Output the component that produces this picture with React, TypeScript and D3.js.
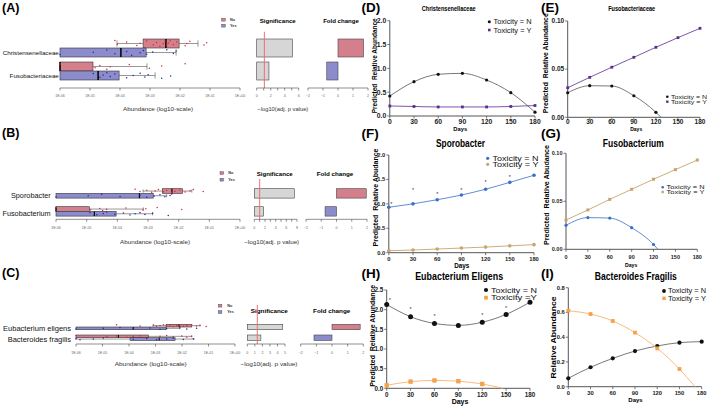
import React from "react";
import * as d3 from "d3";

const FONT = "'Liberation Sans', Arial, Helvetica, sans-serif";

// ---------------- Panels A–C (abundance values as log10) ----------------
// box stats: [whiskerLow, q1, median, q3, whiskerHigh]
const aTaxa = ["Christensenellaceae", "Fusobacteriaceae"];
const aBoxNo = [[-4.1, -3.23, -2.47, -2.03, -1.4], [-6, -6, -6, -4.9, -3.1]];
const aBoxYes = [[-6, -6, -3.97, -3.13, -2.13], [-6, -6, -4.73, -4.03, -2.83]];
const aDotsNo = [
  [-4.17, -4.09, -3.78, -3.44, -3.33, -3.11, -2.89, -2.78, -2.67, -2.56, -2.5, -2.44, -2.39, -2.33, -2.22, -2.11, -1.83, -1.78, -1.67, -1.2, -1.11],
  [-6, -4.83, -4.67, -4.44, -4.33, -3.69, -3.02, -2.61, -1.83],
];
const aDotsYes = [
  [-6, -4.89, -4.44, -4.17, -3.78, -3.61, -3.33, -3.22, -3.11, -2.91, -2.44, -2.22, -2.13],
  [-4.89, -4.67, -4.56, -4.44, -4.33, -4.17, -3.78, -3.56, -3.33, -3.17, -3.06, -2.61, -2.31],
];
const aSig = [5.1, 1.75];
const aFold = [1.7, -0.75];

const bTaxa = ["Sporobacter", "Fusobacterium"];
const bBoxNo = [[-3.16, -2.53, -2.22, -1.87, -1.57], [-6, -6, -6, -4.91, -3.15]];
const bBoxYes = [[-6, -6, -3.28, -2.83, -2.39], [-6, -6, -4.75, -4.04, -2.85]];
const bDotsNo = [
  [-3.42, -3.26, -3.04, -2.88, -2.77, -2.66, -2.5, -2.39, -2.23, -2.12, -1.96, -1.79, -1.63, -1.52, -1.2],
  [-6, -4.87, -4.57, -4.48, -4.35, -3.72, -3.17, -3.07, -2.7, -1.9],
];
const bDotsYes = [
  [-6, -4.95, -4.51, -3.91, -3.26, -3.04, -2.8, -2.61, -2.45, -2.28, -2.23],
  [-4.89, -4.67, -4.46, -4.35, -4.08, -3.8, -3.59, -3.42, -3.26, -3.1, -2.85, -2.34],
];
const bSig = [7.5, 1.75];
const bFold = [1.95, -0.75];

const cTaxa = ["Eubacterium eligens", "Bacteroides fragilis"];
const cBoxNo = [[-3.09, -2.6, -2.11, -1.63, -1.32], [-6, -6, -4.4, -3.27, -1.63]];
const cBoxYes = [[-6, -6, -3.84, -2.6, -2.08], [-6, -3.96, -2.86, -2.26, -1.55]];
const cDotsNo = [
  [-4.47, -3.58, -3.08, -2.96, -2.83, -2.7, -2.58, -2.45, -2.33, -2.2, -2.08, -1.95, -1.82, -1.64, -1.45, -1.32, -1.09],
  [-6, -4.84, -4.47, -4.09, -3.84, -3.58, -3.27, -2.83, -2.58, -2.33, -2.01, -1.82, -1.64],
];
const cDotsYes = [
  [-6, -4.97, -4.34, -3.84, -3.21, -2.83, -2.58, -2.08, -1.82, -1.45],
  [-6, -5.85, -5.35, -4.97, -3.84, -3.33, -2.96, -2.58, -2.33, -1.95, -1.57],
];
const cSig = [4.7, 1.8];
const cFold = [1.8, -1.15];

const abundanceTicks = [-6, -5, -4, -3, -2, -1, 0];
const foldTicks = [-2, -1, 0, 1, 2];
const groupNames = ["No", "Yes"];

// ---------------- Panels D–I (predicted abundance by day) ----------------
const days = [0, 30, 60, 90, 120, 150, 180];
const dN = [0.42, 0.72, 0.875, 0.895, 0.755, 0.49, 0.08];
const dY = [0.21, 0.2, 0.19, 0.19, 0.19, 0.2, 0.22];
const eN = [0.0255, 0.0328, 0.0325, 0.0224, 0.0052];
const eNTail: [number, number] = [127, 0];
const eY = [0.0307, 0.0415, 0.052, 0.0623, 0.0727, 0.0827, 0.0924];
const fN = [0.93, 1.0, 1.085, 1.18, 1.3, 1.44, 1.585];
const fY = [0.04, 0.055, 0.075, 0.095, 0.115, 0.14, 0.165];
const fStarDays = [3, 30, 60, 90, 120, 150];
const fStarVals = [1.0, 1.3, 1.22, 1.3, 1.45, 1.57];
const gN = [0.025, 0.033, 0.0325, 0.0225, 0.005];
const gNTail: [number, number] = [126, 0];
const gY = [0.0305, 0.041, 0.052, 0.0625, 0.073, 0.083, 0.093];
const hN = [2.13, 1.82, 1.65, 1.6, 1.68, 1.88, 2.19];
const hY = [0.075, 0.17, 0.2, 0.18, 0.11];
const hYTail: [number, number] = [146, 0];
const hStarDays = [4, 30, 60, 120, 150];
const hStarVals = [2.26, 2.03, 1.85, 1.87, 2.06];
const iN = [0.068, 0.157, 0.229, 0.288, 0.329, 0.356, 0.364];
const iY = [0.614, 0.587, 0.531, 0.437, 0.31, 0.143];
const iYTail: [number, number] = [171, 0];

const RED_FILL = "#d4808c";
const BLUE_FILL = "#8c8ccc";
const RED_DOT = "#d8282e";
const BLUE_DOT = "#2424a8";

const jitter = (i: number) => ((i * 0.618034) % 1) - 0.5;

function abFmt(d: number) {
  return d === 0 ? "1E+00" : `1E-0${-d}`;
}

function BoxPanel({ cfg, taxa, boxNo, boxYes, dotsNo, dotsYes, sig, fold }: any) {
  const xAb = d3.scaleLinear().domain([-6, 0]).range(cfg.ab);
  const xSig = d3.scaleLinear().domain([0, cfg.sigMax]).range(cfg.sig);
  const xFold = d3.scaleLinear().domain([-2, 2]).range(cfg.fold);
  const h = cfg.h;
  const sigTicks = d3.range(0, cfg.sigMax + 1);
  const axisCol = "#444";
  const tf = 3.6;

  const box = (st: number[], top: number, fill: string, key: string) => {
    const mid = top + h / 2;
    const [lo, q1, med, q3, hi] = st;
    return (
      <g key={key}>
        {lo < q1 && <line x1={xAb(lo)} x2={xAb(q1)} y1={mid} y2={mid} stroke="#333" strokeWidth={0.5} />}
        {lo < q1 && <line x1={xAb(lo)} x2={xAb(lo)} y1={top + h * 0.15} y2={top + h * 0.85} stroke="#333" strokeWidth={0.5} />}
        <line x1={xAb(q3)} x2={xAb(hi)} y1={mid} y2={mid} stroke="#333" strokeWidth={0.5} />
        <line x1={xAb(hi)} x2={xAb(hi)} y1={top + h * 0.15} y2={top + h * 0.85} stroke="#333" strokeWidth={0.5} />
        <rect x={xAb(q1)} y={top} width={Math.max(0.5, xAb(q3) - xAb(q1))} height={h} fill={fill} stroke="#333" strokeWidth={0.6} />
        <line x1={xAb(med)} x2={xAb(med)} y1={top} y2={top + h} stroke="#000" strokeWidth={cfg.medW} />
      </g>
    );
  };

  return (
    <g fontFamily={FONT}>
      <text x={2} y={cfg.labelY} fontSize={12.5} fontWeight="bold">{cfg.label}</text>
      {groupNames.map((g, k) => (
        <g key={g}>
          <rect x={cfg.legX} y={cfg.legY[k]} width={3.6} height={2.8} fill={k === 0 ? RED_FILL : BLUE_FILL} stroke="#444" strokeWidth={0.4} />
          <text x={cfg.legTextX} y={cfg.legY[k] + 2.7} fontSize={3.8} fontWeight="bold" fill="#333">{g}</text>
        </g>
      ))}
      <text x={cfg.sigTitleCX} y={cfg.titleY} fontSize={5.6} fontWeight="bold" textAnchor="middle" textLength={cfg.sigTitleW} lengthAdjust="spacingAndGlyphs">Significance</text>
      <text x={cfg.foldTitleCX} y={cfg.titleY} fontSize={5.6} fontWeight="bold" textAnchor="middle" textLength={cfg.foldTitleW} lengthAdjust="spacingAndGlyphs">Fold change</text>

      {taxa.map((t: string, i: number) => {
        const top = cfg.rowTops[i];
        const blueMid = top + h * 1.5;
        return (
          <g key={t}>
            <text x={cfg.rowRight} y={blueMid + cfg.rowFont * 0.35} fontSize={cfg.rowFont} textAnchor="end" fill="#111">{t}</text>
            {box(boxNo[i], top, RED_FILL, "n")}
            {box(boxYes[i], top + h, BLUE_FILL, "y")}
            {dotsNo[i].map((v: number, j: number) => (
              <circle key={"dn" + j} cx={xAb(v)} cy={top + h / 2 + jitter(j + i * 5) * cfg.jit} r={0.75} fill={RED_DOT} />
            ))}
            {dotsYes[i].map((v: number, j: number) => (
              <circle key={"dy" + j} cx={xAb(v)} cy={top + h * 1.5 + jitter(j + 3 + i * 7) * cfg.jit} r={0.75} fill={BLUE_DOT} />
            ))}
            <rect x={xSig(0)} y={top} width={xSig(sig[i]) - xSig(0)} height={2 * h} fill="#d6d6d6" stroke="#444" strokeWidth={0.6} />
            <rect x={xFold(Math.min(0, fold[i]))} y={top} width={Math.abs(xFold(fold[i]) - xFold(0))} height={2 * h}
              fill={fold[i] > 0 ? RED_FILL : BLUE_FILL} stroke="#444" strokeWidth={0.6} />
          </g>
        );
      })}
      <line x1={xSig(cfg.thr)} x2={xSig(cfg.thr)} y1={cfg.redTop} y2={cfg.axisY} stroke="#f06a6a" strokeWidth={1.1} opacity={0.85} />

      <line x1={xAb(-6)} x2={xAb(0)} y1={cfg.axisY} y2={cfg.axisY} stroke={axisCol} strokeWidth={0.6} />
      {abundanceTicks.map((d) => (
        <g key={"at" + d}>
          <line x1={xAb(d)} x2={xAb(d)} y1={cfg.axisY} y2={cfg.axisY + 2.5} stroke={axisCol} strokeWidth={0.6} />
          <text x={xAb(d)} y={cfg.tickLabelY} fontSize={tf} textAnchor="middle" fill="#666">{abFmt(d)}</text>
        </g>
      ))}
      <text x={cfg.abTitleX} y={cfg.axisTitleY} fontSize={6} textAnchor="middle" fill="#333" textLength={cfg.abTitleW} lengthAdjust="spacingAndGlyphs">Abundance (log10-scale)</text>

      <line x1={xSig(0)} x2={xSig(cfg.sigMax)} y1={cfg.axisY} y2={cfg.axisY} stroke={axisCol} strokeWidth={0.6} />
      {sigTicks.map((d) => (
        <g key={"st" + d}>
          <line x1={xSig(d)} x2={xSig(d)} y1={cfg.axisY} y2={cfg.axisY + 2.5} stroke={axisCol} strokeWidth={0.6} />
          {d % cfg.sigLabelStep === 0 && <text x={xSig(d)} y={cfg.tickLabelY} fontSize={tf} textAnchor="middle" fill="#666">{d}</text>}
        </g>
      ))}
      <text x={cfg.sigAxisTitleX} y={cfg.axisTitleY} fontSize={6} textAnchor="middle" fill="#333" textLength={cfg.sigAxisTitleW} lengthAdjust="spacingAndGlyphs">−log10(adj. p value)</text>

      <line x1={xFold(-2)} x2={xFold(2)} y1={cfg.axisY} y2={cfg.axisY} stroke={axisCol} strokeWidth={0.6} />
      {foldTicks.map((d) => (
        <g key={"ft" + d}>
          <line x1={xFold(d)} x2={xFold(d)} y1={cfg.axisY} y2={cfg.axisY + 2.5} stroke={axisCol} strokeWidth={0.6} />
          <text x={xFold(d)} y={cfg.tickLabelY} fontSize={tf} textAnchor="middle" fill="#666">{d < 0 ? "−" + -d : d}</text>
        </g>
      ))}
    </g>
  );
}

const cfgA = {
  label: "(A)", labelY: 11.7, rowTops: [39, 62], h: 9, ab: [60, 240], sig: [256.7, 298.7], sigMax: 6, sigLabelStep: 2,
  fold: [308, 368], axisY: 88, tickLabelY: 97, axisTitleY: 110.5, abTitleX: 158, abTitleW: 70, sigAxisTitleX: 282.8, sigAxisTitleW: 51,
  sigTitleCX: 277.7, sigTitleW: 36, foldTitleCX: 341, foldTitleW: 35.7, titleY: 23, legX: 221.7, legY: [18.3, 24.3], legTextX: 230,
  redTop: 31.7, thr: 1.1, rowFont: 6.2, rowRight: 58.8, jit: 6, medW: 1.5,
};
const cfgB = {
  label: "(B)", labelY: 136.5, rowTops: [188.7, 206.7], h: 4.7, ab: [56, 240], sig: [254.3, 297], sigMax: 8, sigLabelStep: 2,
  fold: [306, 367], axisY: 219.3, tickLabelY: 229.3, axisTitleY: 243.5, abTitleX: 155, abTitleW: 70, sigAxisTitleX: 271.7, sigAxisTitleW: 55,
  sigTitleCX: 274.7, sigTitleW: 36, foldTitleCX: 335, foldTitleW: 36.7, titleY: 175.7, legX: 220, legY: [171.7, 178.3], legTextX: 228.3,
  redTop: 179, thr: 1.0, rowFont: 7.3, rowRight: 50.7, jit: 3.5, medW: 1.2,
};
const cfgC = {
  label: "(C)", labelY: 276.5, rowTops: [324.3, 335], h: 2.7, ab: [76, 235], sig: [247.3, 285], sigMax: 5, sigLabelStep: 1,
  fold: [300.7, 363.3], axisY: 344, tickLabelY: 353.6, axisTitleY: 366, abTitleX: 150.7, abTitleW: 72, sigAxisTitleX: 269, sigAxisTitleW: 57,
  sigTitleCX: 269.3, sigTitleW: 37, foldTitleCX: 331.7, foldTitleW: 37.3, titleY: 313, legX: 218.3, legY: [304.3, 310.7], legTextX: 227.3,
  redTop: 305, thr: 1.33, rowFont: 7.5, rowRight: 71, jit: 2, medW: 1,
};

function LinePanel({ c }: any) {
  const x = d3.scaleLinear().domain([0, 180]).range(c.xRange);
  const y = d3.scaleLinear().domain([0, c.yMax]).range(c.yRange);
  const fmt = d3.format(c.yFmt);
  const line = d3.line<[number, number]>().x((d) => x(d[0])).y((d) => y(d[1])).curve(d3.curveMonotoneX);
  const axisCol = "#555";
  return (
    <g fontFamily={FONT}>
      <text x={c.labelX} y={c.labelY} fontSize={13.5} fontWeight="bold">{c.label}</text>
      <text x={c.titleX} y={c.titleY} fontSize={c.titleSize} fontWeight="bold" textAnchor="middle" textLength={c.titleW} lengthAdjust="spacingAndGlyphs">{c.title}</text>
      <line x1={c.xRange[0]} x2={c.xRange[0]} y1={c.yRange[0]} y2={c.yRange[1]} stroke={axisCol} strokeWidth={1} />
      {c.yTicks.map((t: number) => (
        <g key={"y" + t}>
          <line x1={c.xRange[0] - 2.5} x2={c.xRange[0]} y1={y(t)} y2={y(t)} stroke={axisCol} strokeWidth={0.8} />
          <text x={c.xRange[0] - 3.5} y={y(t) + c.tickFont * 0.35} fontSize={c.tickFont} fontWeight="bold" textAnchor="end" fill="#222">{fmt(t)}</text>
        </g>
      ))}
      <line x1={c.xRange[0]} x2={c.xRange[1]} y1={c.yRange[0]} y2={c.yRange[0]} stroke={axisCol} strokeWidth={1} />
      {days.map((t) => (
        <g key={"x" + t}>
          <line x1={x(t)} x2={x(t)} y1={c.yRange[0]} y2={c.yRange[0] + 2.5} stroke={axisCol} strokeWidth={0.8} />
          <text x={x(t)} y={c.xTickY} fontSize={c.tickFont} fontWeight="bold" textAnchor="middle" fill="#222">{t}</text>
        </g>
      ))}
      <text x={c.daysX} y={c.daysY} fontSize={c.daysSize} fontWeight="bold" textAnchor="middle">Days</text>
      <text transform={`translate(${c.yTitleX},${c.yTitleY}) rotate(-90)`} fontSize={c.yTitleSize} fontWeight="bold" textAnchor="middle"
        textLength={c.yTitleW} lengthAdjust="spacingAndGlyphs" style={{ whiteSpace: "pre" }}>{c.yTitle}</text>

      {c.series.map((s: any, k: number) => {
        const pts: [number, number][] = s.vals.map((v: number, i: number) => [days[i], v]);
        const linePts = s.tail ? [...pts, s.tail] : pts;
        return (
          <g key={"s" + k}>
            <path d={line(linePts) || ""} fill="none" stroke={s.lineColor} strokeWidth={s.lineWidth} />
            {pts.map((p, i) =>
              s.marker === "circle" ? (
                <circle key={i} cx={x(p[0])} cy={y(p[1])} r={s.size} fill={s.color} />
              ) : (
                <rect key={i} x={x(p[0]) - s.size} y={y(p[1]) - s.size} width={s.size * 2} height={s.size * 2} fill={s.color} />
              )
            )}
          </g>
        );
      })}
      {c.stars &&
        c.stars.days.map((d: number, i: number) => (
          <text key={"st" + i} x={x(d)} y={y(c.stars.vals[i]) + 2.6} fontSize={5.5} textAnchor="middle" fill="#333">*</text>
        ))}
      {c.series.map((s: any, k: number) => (
        <g key={"l" + k}>
          {s.marker === "circle" ? (
            <circle cx={c.legX} cy={c.legY[k]} r={s.legSize} fill={s.color} />
          ) : (
            <rect x={c.legX - s.legSize} y={c.legY[k] - s.legSize} width={s.legSize * 2} height={s.legSize * 2} fill={s.color} />
          )}
          <text x={c.legTextX} y={c.legY[k] + c.legFont * 0.36} fontSize={c.legFont} fill="#111"
            textLength={c.legW} lengthAdjust="spacingAndGlyphs">{s.name}</text>
        </g>
      ))}
    </g>
  );
}

const BLACK = "#111";
const BLACK_LINE = "#555";
const PURPLE = "#5b2d90";
const BLUE = "#3b6fc8";
const TAN = "#c8a46c";
const ORANGE = "#f5a24a";
const ORANGE_LINE = "#f7b46e";

const cfgD = {
  label: "(D)", labelX: 361.5, labelY: 11.7, title: "Christensenellaceae", titleX: 448.7, titleY: 11, titleSize: 7.4, titleW: 54,
  xRange: [389.8, 535], yRange: [116, 20.7], yMax: 2, yTicks: [0, 0.5, 1, 1.5, 2], yFmt: ".1f", tickFont: 6.8, xTickY: 124,
  daysX: 460.3, daysY: 131, daysSize: 5.8, yTitle: "Predicted  Relative Abundance", yTitleX: 377, yTitleY: 65.8, yTitleSize: 6.6, yTitleW: 95,
  legX: 489.3, legY: [21.7, 30], legTextX: 493.5, legFont: 7, legW: 38,
  series: [
    { name: "Toxicity = N", vals: dN, color: BLACK, lineColor: BLACK_LINE, lineWidth: 0.8, marker: "circle", size: 1.6, legSize: 1.5 },
    { name: "Toxicity = Y", vals: dY, color: PURPLE, lineColor: PURPLE, lineWidth: 0.8, marker: "square", size: 1.4, legSize: 1.3 },
  ],
};
const cfgE = {
  label: "(E)", labelX: 541, labelY: 11.7, title: "Fusobacteriaceae", titleX: 631.7, titleY: 11, titleSize: 7.4, titleW: 47,
  xRange: [567.7, 700], yRange: [117.3, 21], yMax: 0.1, yTicks: [0, 0.05, 0.1], yFmt: ".2f", tickFont: 6.5, xTickY: 124,
  daysX: 636.2, daysY: 130.7, daysSize: 5, yTitle: "Predicted  Relative Abundance", yTitleX: 548, yTitleY: 63.3, yTitleSize: 6.6, yTitleW: 100,
  legX: 667.3, legY: [96.7, 101.7], legTextX: 671, legFont: 5.5, legW: 36,
  series: [
    { name: "Toxicity = N", vals: eN, tail: eNTail, color: BLACK, lineColor: BLACK_LINE, lineWidth: 0.8, marker: "circle", size: 1.6, legSize: 1.3 },
    { name: "Toxicity = Y", vals: eY, color: PURPLE, lineColor: PURPLE, lineWidth: 0.8, marker: "square", size: 1.4, legSize: 1.2 },
  ],
};
const cfgF = {
  label: "(F)", labelX: 361.5, labelY: 138, title: "Sporobacter", titleX: 460.5, titleY: 146.5, titleSize: 10, titleW: 49,
  xRange: [388.8, 534], yRange: [252.7, 155], yMax: 2, yTicks: [0, 0.5, 1, 1.5, 2], yFmt: ".1f", tickFont: 5.8, xTickY: 260.7,
  daysX: 461.8, daysY: 268.3, daysSize: 6.3, yTitle: "Predicted  Relative Abudance", yTitleX: 378, yTitleY: 197.5, yTitleSize: 6.8, yTitleW: 98,
  legX: 487.7, legY: [158.3, 164.3], legTextX: 492.5, legFont: 6.6, legW: 46,
  stars: { days: fStarDays, vals: fStarVals },
  series: [
    { name: "Toxicity = N", vals: fN, color: BLUE, lineColor: BLUE, lineWidth: 0.8, marker: "circle", size: 1.8, legSize: 1.6 },
    { name: "Toxicity = Y", vals: fY, color: TAN, lineColor: TAN, lineWidth: 0.9, marker: "circle", size: 1.8, legSize: 1.6 },
  ],
};
const cfgG = {
  label: "(G)", labelX: 541, labelY: 138, title: "Fusobacterium", titleX: 633.3, titleY: 146.7, titleSize: 10, titleW: 61,
  xRange: [566, 697.3], yRange: [249.3, 153.3], yMax: 0.1, yTicks: [0, 0.05, 0.1], yFmt: ".2f", tickFont: 5.5, xTickY: 259.3,
  daysX: 631.2, daysY: 266.7, daysSize: 5.2, yTitle: "Predicted  Relative Abudance", yTitleX: 549, yTitleY: 195, yTitleSize: 6.8, yTitleW: 100,
  legX: 662.7, legY: [187.3, 192], legTextX: 666.5, legFont: 5.4, legW: 38,
  series: [
    { name: "Toxicity = N", vals: gN, tail: gNTail, color: BLUE, lineColor: BLUE, lineWidth: 0.8, marker: "circle", size: 1.6, legSize: 1.3 },
    { name: "Toxicity = Y", vals: gY, color: TAN, lineColor: TAN, lineWidth: 0.9, marker: "square", size: 1.5, legSize: 1.2 },
  ],
};
const cfgH = {
  label: "(H)", labelX: 361.5, labelY: 277.5, title: "Eubacterium Eligens", titleX: 459.2, titleY: 280, titleSize: 10.5, titleW: 88,
  xRange: [386.7, 530], yRange: [388.3, 290], yMax: 2.5, yTicks: [0, 0.5, 1, 1.5, 2, 2.5], yFmt: ".1f", tickFont: 6.3, xTickY: 397,
  daysX: 460, daysY: 404.3, daysSize: 7, yTitle: "Predicted  Relative Abundance", yTitleX: 375, yTitleY: 335.8, yTitleSize: 7, yTitleW: 102,
  legX: 486, legY: [290, 297.7], legTextX: 491, legFont: 7.6, legW: 46,
  stars: { days: hStarDays, vals: hStarVals },
  series: [
    { name: "Toxicity = N", vals: hN, color: BLACK, lineColor: BLACK_LINE, lineWidth: 0.8, marker: "circle", size: 2.5, legSize: 2.1 },
    { name: "Toxicity =Y", vals: hY, tail: hYTail, color: ORANGE, lineColor: ORANGE_LINE, lineWidth: 0.9, marker: "square", size: 2.2, legSize: 1.9 },
  ],
};
const cfgI = {
  label: "(I)", labelX: 541, labelY: 277.5, title: "Bacteroides Fragilis", titleX: 635.8, titleY: 280, titleSize: 10.5, titleW: 82,
  xRange: [568.3, 701.7], yRange: [386.7, 287.7], yMax: 0.8, yTicks: [0, 0.2, 0.4, 0.6, 0.8], yFmt: ".1f", tickFont: 5.8, xTickY: 395,
  daysX: 635.5, daysY: 402.3, daysSize: 6, yTitle: "Relative Abundance", yTitleX: 556, yTitleY: 337.5, yTitleSize: 8, yTitleW: 82,
  legX: 664, legY: [291, 298.3], legTextX: 668, legFont: 6.6, legW: 38,
  series: [
    { name: "Toxicity = N", vals: iN, color: BLACK, lineColor: BLACK_LINE, lineWidth: 0.8, marker: "circle", size: 2.1, legSize: 1.9 },
    { name: "Toxicity = Y", vals: iY, tail: iYTail, color: ORANGE, lineColor: ORANGE_LINE, lineWidth: 0.9, marker: "square", size: 1.9, legSize: 1.7 },
  ],
};

export default function App() {
  return (
    <svg width={709} height={408} viewBox="0 0 709 408" style={{ position: "absolute", left: 0, top: 0, background: "#fff" }}>
      <rect width={709} height={408} fill="#fff" />
      <BoxPanel cfg={cfgA} taxa={aTaxa} boxNo={aBoxNo} boxYes={aBoxYes} dotsNo={aDotsNo} dotsYes={aDotsYes} sig={aSig} fold={aFold} />
      <BoxPanel cfg={cfgB} taxa={bTaxa} boxNo={bBoxNo} boxYes={bBoxYes} dotsNo={bDotsNo} dotsYes={bDotsYes} sig={bSig} fold={bFold} />
      <BoxPanel cfg={cfgC} taxa={cTaxa} boxNo={cBoxNo} boxYes={cBoxYes} dotsNo={cDotsNo} dotsYes={cDotsYes} sig={cSig} fold={cFold} />
      <LinePanel c={cfgD} />
      <LinePanel c={cfgE} />
      <LinePanel c={cfgF} />
      <LinePanel c={cfgG} />
      <LinePanel c={cfgH} />
      <LinePanel c={cfgI} />
    </svg>
  );
}
